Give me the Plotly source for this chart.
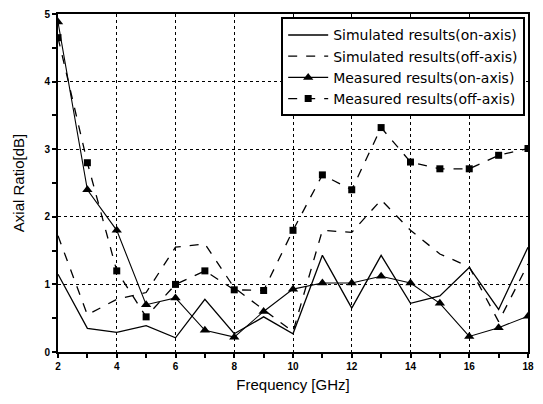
import plotly.graph_objects as go

freq = list(range(2, 19))
sim_on = [1.15, 0.35, 0.29, 0.39, 0.21, 0.78, 0.27, 0.52, 0.27, 1.43, 0.65, 1.43, 0.72, 0.83, 1.25, 0.63, 1.55]
sim_off = [1.72, 0.55, 0.78, 0.88, 1.55, 1.6, 0.95, 0.62, 0.3, 1.8, 1.77, 2.25, 1.8, 1.45, 1.26, 0.45, 1.3]
meas_on = [4.88, 2.4, 1.8, 0.7, 0.8, 0.32, 0.22, 0.6, 0.93, 1.02, 1.02, 1.12, 1.02, 0.72, 0.23, 0.36, 0.53]
meas_off = [4.65, 2.8, 1.2, 0.52, 1.0, 1.2, 0.92, 0.91, 1.8, 2.62, 2.4, 3.32, 2.81, 2.71, 2.71, 2.91, 3.01]

x_ticks = [2, 4, 6, 8, 10, 12, 14, 16, 18]
y_ticks = [0, 1, 2, 3, 4, 5]

fig = go.Figure()
fig.add_trace(go.Scatter(x=freq, y=sim_on, mode="lines", name="Simulated results(on-axis)",
                         line=dict(color="black", width=1.3)))
fig.add_trace(go.Scatter(x=freq, y=sim_off, mode="lines", name="Simulated results(off-axis)",
                         line=dict(color="black", width=1.3, dash="dash")))
fig.add_trace(go.Scatter(x=freq, y=meas_on, mode="lines+markers", name="Measured results(on-axis)",
                         line=dict(color="black", width=1.1),
                         marker=dict(symbol="triangle-up", size=9, color="black")))
fig.add_trace(go.Scatter(x=freq, y=meas_off, mode="lines+markers", name="Measured results(off-axis)",
                         line=dict(color="black", width=1.3, dash="dash"),
                         marker=dict(symbol="square", size=7, color="black")))

axis_common = dict(
    showline=True, linecolor="black", linewidth=2, mirror=True,
    ticks="outside", ticklen=4, tickwidth=1.5, tickcolor="black",
    showgrid=True, gridcolor="black", gridwidth=1, griddash="dot",
    zeroline=False,
    tickfont=dict(family="Arial", size=10, color="black", weight="bold"),
)

fig.update_xaxes(range=[2, 18], tickvals=x_ticks, ticktext=[str(v) for v in x_ticks],
                 minor=dict(tickvals=list(range(3, 18, 2)), ticks="outside", ticklen=4,
                            tickcolor="black", tickwidth=1.5, showgrid=False),
                 title=dict(text="Frequency [GHz]", font=dict(family="Arial", size=15, color="black"),
                            standoff=8),
                 **axis_common)
fig.update_yaxes(range=[0, 5], tickvals=y_ticks, ticktext=[str(v) for v in y_ticks],
                 minor=dict(tickvals=[0.5, 1.5, 2.5, 3.5, 4.5], ticks="outside", ticklen=4,
                            tickcolor="black", tickwidth=1.5, showgrid=False),
                 title=dict(text="Axial Ratio[dB]", font=dict(family="Arial", size=15, color="black"),
                            standoff=16),
                 **axis_common)

fig.update_layout(
    width=543, height=404,
    margin=dict(l=58, r=15, t=8, b=52),
    plot_bgcolor="white", paper_bgcolor="white",
    font=dict(family="Arial", color="black"),
    legend=dict(x=0.994, y=0.99, xanchor="right", yanchor="top",
                bgcolor="white", bordercolor="black", borderwidth=2,
                font=dict(family="DejaVu Sans", size=14, color="black"),
                tracegroupgap=0, itemwidth=40, entrywidth=225, entrywidthmode="pixels"),
)

fig.write_html("out.html")
